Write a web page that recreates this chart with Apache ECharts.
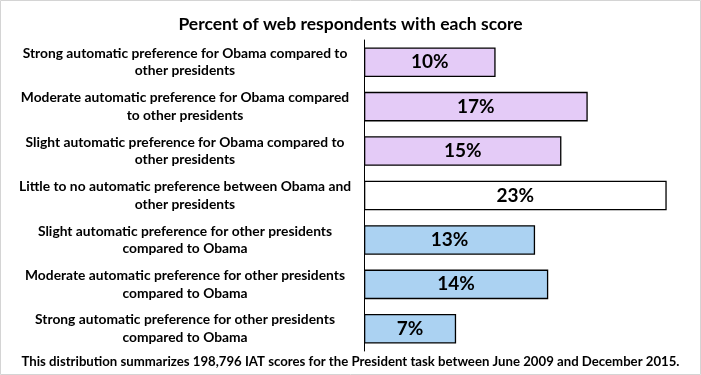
<!DOCTYPE html>
<html>
<head>
<meta charset="utf-8">
<script src="https://cdn.jsdelivr.net/npm/echarts@6/dist/echarts.min.js"></script>
<style>
html,body{margin:0;padding:0;background:#fff;}
#chart{width:701px;height:375px;}
</style>
</head>
<body>
<div id="chart"></div>
<script>
var categories = [
  "Strong automatic preference for Obama compared to\nother presidents",
  "Moderate automatic preference for Obama compared\nto other presidents",
  "Slight automatic preference for Obama compared to\nother presidents",
  "Little to no automatic preference between Obama and\nother presidents",
  "Slight automatic preference for other presidents\ncompared to Obama",
  "Moderate automatic preference for other presidents\ncompared to Obama",
  "Strong automatic preference for other presidents\ncompared to Obama"
];
var percents = [10, 17, 15, 23, 13, 14, 7];
var titleText = "Percent of web respondents with each score";
var footnote = "This distribution summarizes 198,796 IAT scores for the President task between June 2009 and December 2015.";

var barColors = ["#E4CBF7", "#E4CBF7", "#E4CBF7", "#FFFFFF", "#ABD2F2", "#ABD2F2", "#ABD2F2"];
var FONT = "Lato";

var chart = echarts.init(document.getElementById('chart'), null, {renderer: 'canvas'});
chart.setOption({
  backgroundColor: '#fff',
  animation: false,
  title: {
    text: titleText,
    left: 'center',
    top: 10,
    textStyle: {fontFamily: FONT, fontWeight: 'bold', fontSize: 17.5, color: '#000'}
  },
  graphic: [
    {type: 'rect', shape: {x: 0.5, y: 0.5, width: 700, height: 374}, style: {fill: 'none', stroke: '#d4d4d4', lineWidth: 1}, z: 100},
    {type: 'text', left: 'center', top: 355, style: {text: footnote, font: 'bold 13.2px ' + FONT, fill: '#000'}}
  ],
  grid: {left: 364, top: 40, width: 329, height: 311, containLabel: false},
  xAxis: {
    type: 'value', min: 0, max: 25, show: false
  },
  yAxis: {
    type: 'category',
    inverse: true,
    data: categories,
    axisLine: {show: true, lineStyle: {color: '#000', width: 1}},
    axisTick: {show: false},
    splitLine: {show: false},
    axisLabel: {
      align: 'center',
      margin: 179,
      fontFamily: FONT,
      fontWeight: 'bold',
      fontSize: 13.8,
      lineHeight: 17.5,
      padding: [4, 0, 0, 0],
      color: '#000'
    }
  },
  series: [{
    type: 'bar',
    data: percents.map(function (v, i) {
      return {value: v, itemStyle: {color: barColors[i]}};
    }),
    barCategoryGap: '33.5%',
    itemStyle: {borderColor: '#000', borderWidth: 1.3},
    label: {
      show: true,
      position: 'inside',
      formatter: function (p) { return Math.round(p.value) + '%'; },
      fontFamily: FONT,
      fontWeight: 'bold',
      fontSize: 19,
      color: '#000'
    }
  }]
});
</script>
</body>
</html>
